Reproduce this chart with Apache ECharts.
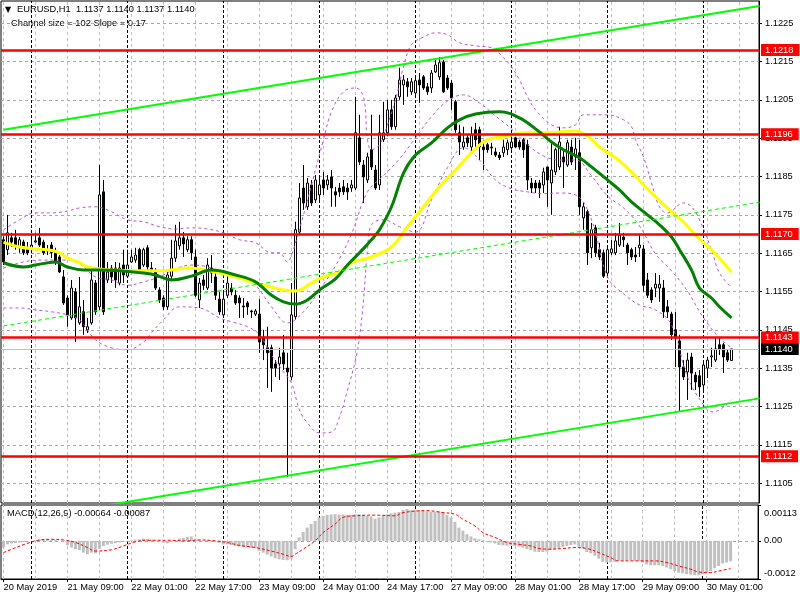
<!DOCTYPE html>
<html><head><meta charset="utf-8">
<script src="https://cdn.jsdelivr.net/npm/echarts@6/dist/echarts.min.js"></script>
<style>html,body{margin:0;padding:0;background:#fff}#c{width:800px;height:600px}</style>
</head><body><div id="c"></div>
<script>
// ---------- DATA (EURUSD H1, 20 May 2019 17:00 .. 30 May 2019 07:00) ----------
const opens = [1.11685,1.11659,1.11690,1.11690,1.11664,1.11679,1.11664,1.11659,1.11679,1.11690,
1.11679,1.11659,1.11671,1.11651,1.11640,1.11588,1.11533,1.11481,1.11549,1.11468,
1.11497,1.11450,1.11468,1.11572,1.11510,1.11810,1.11580,1.11611,1.11611,1.11572,
1.11619,1.11590,1.11627,1.11632,1.11659,1.11619,1.11664,1.11611,1.11606,1.11554,
1.11533,1.11510,1.11590,1.11637,1.11669,1.11690,1.11659,1.11685,1.11640,1.11528,
1.11580,1.11559,1.11611,1.11588,1.11530,1.11489,1.11540,1.11559,1.11540,1.11533,
1.11512,1.11520,1.11499,1.11491,1.11491,1.11431,1.11403,1.11403,1.11361,1.11361,
1.11390,1.11350,1.11327,1.11484,1.11705,1.11820,1.11771,1.11828,1.11789,1.11802,
1.11841,1.11828,1.11849,1.11810,1.11820,1.11823,1.11820,1.11820,1.11820,1.11951,
1.11880,1.11841,1.11920,1.11867,1.11828,1.11946,1.11964,1.12024,1.11980,1.12058,
1.12089,1.12097,1.12071,1.12068,1.12102,1.12110,1.12084,1.12081,1.12123,1.12110,
1.12149,1.12107,1.12094,1.12045,1.11964,1.11927,1.11951,1.11927,1.11972,1.11972,
1.11927,1.11933,1.11927,1.11914,1.11906,1.11912,1.11920,1.11925,1.11951,1.11940,
1.11946,1.11933,1.11833,1.11833,1.11833,1.11828,1.11875,1.11833,1.11862,1.11875,
1.11901,1.11880,1.11927,1.11901,1.11912,1.11742,1.11758,1.11664,1.11716,1.11659,
1.11651,1.11598,1.11651,1.11651,1.11671,1.11692,1.11671,1.11659,1.11645,1.11664,
1.11661,1.11580,1.11554,1.11559,1.11559,1.11559,1.11510,1.11491,1.11450,1.11421,
1.11353,1.11340,1.11379,1.11332,1.11330,1.11306,1.11350,1.11379,1.11371,1.11411,
1.11411,1.11390,1.11370];
const highs = [1.11694,1.11750,1.11703,1.11711,1.11692,1.11685,1.11679,1.11697,1.11703,1.11716,
1.11685,1.11671,1.11679,1.11664,1.11645,1.11606,1.11540,1.11580,1.11559,1.11588,
1.11528,1.11481,1.11606,1.11580,1.11880,1.11841,1.11627,1.11619,1.11627,1.11625,
1.11659,1.11659,1.11659,1.11664,1.11664,1.11664,1.11671,1.11627,1.11611,1.11561,
1.11540,1.11606,1.11685,1.11724,1.11732,1.11705,1.11694,1.11694,1.11659,1.11585,
1.11593,1.11637,1.11645,1.11601,1.11549,1.11554,1.11593,1.11572,1.11554,1.11540,
1.11533,1.11525,1.11502,1.11504,1.11530,1.11450,1.11458,1.11411,1.11371,1.11403,
1.11437,1.11390,1.11572,1.11732,1.11833,1.11880,1.11846,1.11841,1.11854,1.11846,
1.11862,1.11854,1.11867,1.11823,1.11833,1.11841,1.11833,1.11841,1.12058,1.12011,
1.11893,1.11912,1.12011,1.11880,1.12011,1.12045,1.12050,1.12050,1.12063,1.12134,
1.12115,1.12107,1.12107,1.12115,1.12120,1.12115,1.12094,1.12128,1.12154,1.12162,
1.12154,1.12115,1.12102,1.12050,1.11985,1.11980,1.11959,1.11980,1.11990,1.11980,
1.11946,1.11938,1.11938,1.11925,1.11914,1.11946,1.11946,1.11951,1.11953,1.11946,
1.11951,1.11946,1.11846,1.11841,1.11841,1.11873,1.11875,1.11938,1.11925,1.11980,
1.11920,1.11946,1.11946,1.11951,1.11946,1.11781,1.11763,1.11729,1.11724,1.11677,
1.11659,1.11671,1.11685,1.11703,1.11729,1.11703,1.11677,1.11664,1.11666,1.11697,
1.11671,1.11598,1.11561,1.11598,1.11593,1.11580,1.11528,1.11497,1.11497,1.11437,
1.11371,1.11390,1.11390,1.11340,1.11345,1.11366,1.11379,1.11403,1.11431,1.11431,
1.11416,1.11398,1.11400];
const lows = [1.11619,1.11645,1.11666,1.11659,1.11651,1.11645,1.11645,1.11659,1.11677,1.11666,
1.11645,1.11645,1.11637,1.11619,1.11598,1.11515,1.11458,1.11476,1.11418,1.11463,
1.11437,1.11442,1.11463,1.11489,1.11502,1.11489,1.11572,1.11572,1.11559,1.11566,
1.11572,1.11585,1.11625,1.11625,1.11601,1.11614,1.11606,1.11601,1.11554,1.11520,
1.11502,1.11502,1.11580,1.11627,1.11659,1.11640,1.11653,1.11632,1.11535,1.11507,
1.11554,1.11554,1.11572,1.11528,1.11489,1.11481,1.11533,1.11540,1.11515,1.11481,
1.11481,1.11489,1.11481,1.11486,1.11390,1.11371,1.11298,1.11288,1.11327,1.11319,
1.11345,1.11066,1.11319,1.11476,1.11697,1.11763,1.11763,1.11773,1.11781,1.11789,
1.11802,1.11815,1.11771,1.11771,1.11797,1.11802,1.11789,1.11810,1.11815,1.11880,
1.11781,1.11833,1.11867,1.11815,1.11815,1.11940,1.11956,1.11972,1.11972,1.12050,
1.12037,1.12058,1.12063,1.12063,1.12042,1.12076,1.12063,1.12068,1.12120,1.12102,
1.12068,1.12076,1.12024,1.11964,1.11906,1.11920,1.11927,1.11914,1.11920,1.11893,
1.11867,1.11912,1.11906,1.11901,1.11893,1.11901,1.11906,1.11920,1.11925,1.11920,
1.11899,1.11815,1.11807,1.11807,1.11794,1.11807,1.11771,1.11750,1.11854,1.11867,
1.11820,1.11875,1.11880,1.11867,1.11750,1.11711,1.11619,1.11637,1.11640,1.11632,
1.11585,1.11593,1.11645,1.11645,1.11666,1.11666,1.11619,1.11632,1.11627,1.11640,
1.11549,1.11533,1.11520,1.11535,1.11523,1.11481,1.11481,1.11424,1.11353,1.11236,
1.11319,1.11267,1.11293,1.11293,1.11275,1.11293,1.11324,1.11353,1.11366,1.11384,
1.11337,1.11366,1.11370];
const closes = [1.11627,1.11703,1.11679,1.11671,1.11685,1.11651,1.11651,1.11671,1.11682,1.11671,
1.11651,1.11656,1.11651,1.11627,1.11601,1.11520,1.11489,1.11559,1.11481,1.11510,
1.11458,1.11458,1.11580,1.11497,1.11802,1.11497,1.11601,1.11588,1.11580,1.11611,
1.11593,1.11619,1.11640,1.11645,1.11606,1.11659,1.11614,1.11606,1.11559,1.11528,
1.11510,1.11593,1.11637,1.11682,1.11690,1.11674,1.11685,1.11651,1.11540,1.11572,
1.11566,1.11619,1.11598,1.11540,1.11497,1.11530,1.11572,1.11549,1.11520,1.11520,
1.11510,1.11510,1.11497,1.11499,1.11418,1.11411,1.11390,1.11350,1.11350,1.11379,
1.11361,1.11340,1.11489,1.11711,1.11794,1.11781,1.11833,1.11781,1.11841,1.11828,
1.11820,1.11841,1.11820,1.11802,1.11810,1.11810,1.11810,1.11828,1.11964,1.11888,
1.11849,1.11901,1.11875,1.11820,1.11964,1.11964,1.12024,1.11980,1.12055,1.12102,
1.12102,1.12084,1.12097,1.12100,1.12089,1.12081,1.12071,1.12120,1.12141,1.12147,
1.12071,1.12081,1.12055,1.11972,1.11940,1.11940,1.11938,1.11959,1.11946,1.11927,
1.11920,1.11920,1.11925,1.11906,1.11899,1.11927,1.11938,1.11940,1.11927,1.11927,
1.11920,1.11841,1.11820,1.11820,1.11820,1.11862,1.11841,1.11867,1.11920,1.11940,
1.11888,1.11938,1.11888,1.11922,1.11771,1.11771,1.11651,1.11711,1.11651,1.11640,
1.11590,1.11659,1.11661,1.11682,1.11697,1.11685,1.11651,1.11640,1.11640,1.11671,
1.11566,1.11540,1.11528,1.11569,1.11569,1.11497,1.11497,1.11437,1.11429,1.11353,
1.11327,1.11371,1.11337,1.11314,1.11301,1.11358,1.11371,1.11382,1.11400,1.11400,
1.11379,1.11371,1.11400];

// moving averages: [bar index, price]
const maGreen = [[0,1.11625],[5,1.11614],[8,1.11619],[13,1.11627],[16,1.11614],[20,1.11606],[24,1.11606],[29,1.11604],[35,1.11598],[38,1.11593],[42,1.11580],[47,1.11590],[52,1.11606],[58,1.11593],[63,1.11575],[67,1.11540],[70,1.11523],[73,1.11517],[76,1.11528],[79,1.11554],[83,1.11583],[86,1.11619],[89,1.11651],[92,1.11685],[94,1.11711],[97,1.11771],[100,1.11859],[103,1.11906],[107,1.11938],[111,1.11977],[114,1.11998],[118,1.12013],[124,1.12019],[129,1.12003],[134,1.11966],[137,1.11940],[140,1.11920],[144,1.11899],[147,1.11875],[151,1.11841],[154,1.11815],[157,1.11784],[161,1.11750],[164,1.11724],[167,1.11692],[169,1.11659],[172,1.11606],[174,1.11559],[177,1.11533],[179,1.11510],[182,1.11481]];
const maYellow = [[0,1.11679],[4,1.11666],[8,1.11661],[11,1.11659],[14,1.11651],[16,1.11637],[19,1.11625],[21,1.11614],[24,1.11609],[27,1.11606],[34,1.11604],[39,1.11604],[42,1.11606],[46,1.11611],[49,1.11609],[54,1.11598],[58,1.11588],[62,1.11575],[67,1.11561],[70,1.11554],[73,1.11551],[77,1.11572],[80,1.11588],[84,1.11601],[87,1.11625],[92,1.11640],[97,1.11666],[101,1.11719],[105,1.11771],[109,1.11823],[113,1.11867],[117,1.11912],[121,1.11946],[125,1.11953],[130,1.11964],[136,1.11964],[143,1.11969],[146,1.11956],[149,1.11927],[153,1.11899],[157,1.11862],[160,1.11828],[163,1.11797],[167,1.11758],[170,1.11732],[173,1.11697],[177,1.11659],[179,1.11637],[182,1.11601]];
// Bollinger bands
const bbUpper = [[0,1.11711],[4,1.11737],[8,1.11755],[12,1.11755],[16,1.11760],[19,1.11768],[23,1.11771],[27,1.11758],[31,1.11737],[35,1.11732],[39,1.11719],[43,1.11713],[47,1.11716],[51,1.11713],[55,1.11703],[59,1.11685],[63,1.11677],[67,1.11651],[69,1.11651],[71,1.11627],[72,1.11645],[73,1.11677],[75,1.11750],[77,1.11828],[80,1.11946],[82,1.12019],[85,1.12071],[88,1.12081],[90,1.12058],[91,1.11946],[92,1.11920],[94,1.11933],[96,1.11985],[98,1.12050],[100,1.12136],[102,1.12194],[105,1.12214],[108,1.12225],[111,1.12220],[114,1.12199],[118,1.12191],[122,1.12186],[125,1.12160],[127,1.12136],[129,1.12102],[131,1.12058],[133,1.12024],[137,1.11985],[140,1.11977],[143,1.11985],[145,1.12011],[151,1.12011],[155,1.11998],[157,1.11980],[158,1.11946],[160,1.11901],[162,1.11833],[164,1.11771],[166,1.11755],[170,1.11781],[172,1.11771],[174,1.11737],[177,1.11659],[179,1.11598],[182,1.11561]];
const bbMiddle = [[0,1.11611],[5,1.11627],[10,1.11632],[15,1.11632],[19,1.11622],[23,1.11588],[27,1.11580],[31,1.11566],[35,1.11575],[39,1.11588],[43,1.11609],[47,1.11619],[51,1.11614],[55,1.11596],[59,1.11588],[63,1.11566],[67,1.11510],[71,1.11468],[75,1.11497],[79,1.11554],[83,1.11617],[87,1.11700],[91,1.11810],[95,1.11852],[99,1.11896],[103,1.11951],[107,1.12006],[111,1.12047],[115,1.12063],[119,1.12042],[123,1.12008],[127,1.11974],[131,1.11933],[135,1.11904],[139,1.11893],[143,1.11893],[147,1.11852],[151,1.11799],[155,1.11768],[159,1.11721],[163,1.11648],[167,1.11604],[171,1.11551],[175,1.11481],[179,1.11429],[182,1.11403]];
const bbLower = [[0,1.11507],[4,1.11507],[8,1.11502],[12,1.11497],[16,1.11489],[19,1.11476],[23,1.11424],[27,1.11403],[31,1.11398],[35,1.11418],[37,1.11442],[40,1.11476],[44,1.11510],[49,1.11507],[54,1.11481],[57,1.11471],[61,1.11458],[64,1.11437],[67,1.11384],[70,1.11340],[72,1.11311],[74,1.11241],[76,1.11207],[79,1.11181],[82,1.11183],[84,1.11223],[86,1.11293],[88,1.11371],[89,1.11431],[90,1.11528],[91,1.11659],[92,1.11724],[95,1.11737],[99,1.11719],[103,1.11705],[107,1.11789],[111,1.11873],[115,1.11925],[119,1.11893],[123,1.11841],[127,1.11818],[131,1.11810],[135,1.11805],[139,1.11807],[143,1.11802],[147,1.11737],[151,1.11588],[155,1.11544],[159,1.11515],[163,1.11502],[167,1.11463],[171,1.11327],[175,1.11254],[177,1.11236],[179,1.11241],[182,1.11267]];

// MACD(12,26,9) main (histogram) per bar, and signal line
const macdHist = [-0.00021,-0.00011,-0.00008,-0.00007,-0.00005,-0.00003,-0.00002,-0.00001,0.00002,0.00004,
0.00005,0.00005,0.00004,0.00003,0.00001,-0.00002,-0.00014,-0.00021,-0.00026,-0.00029,
-0.00037,-0.00042,-0.00037,-0.00039,-0.00024,-0.00016,-0.00012,-0.00009,-0.00007,-0.00005,
-0.00003,-0.00002,0.00002,0.00004,0.00005,0.00007,0.00006,0.00004,0.00002,-0.00002,
-0.00005,-0.00008,-0.00003,0.00002,0.00007,0.00009,0.00013,0.00014,0.00007,0.00003,
0.00001,0.00003,0.00001,-0.00002,-0.00007,-0.00011,-0.00011,-0.00013,-0.00016,-0.00018,
-0.00019,-0.00021,-0.00022,-0.00023,-0.00032,-0.00037,-0.00043,-0.00049,-0.00055,-0.00058,
-0.00060,-0.00061,-0.00056,-0.00026,0.00011,0.00028,0.00042,0.00053,0.00063,0.00074,
0.00079,0.00082,0.00083,0.00084,0.00083,0.00083,0.00082,0.00082,0.00084,0.00084,
0.00082,0.00079,0.00077,0.00070,0.00074,0.00079,0.00084,0.00087,0.00089,0.00091,
0.00098,0.00100,0.00097,0.00098,0.00096,0.00095,0.00093,0.00091,0.00091,0.00093,
0.00089,0.00081,0.00074,0.00060,0.00042,0.00032,0.00021,0.00014,0.00008,0.00005,
0.00002,-0.00002,-0.00005,-0.00008,-0.00013,-0.00014,-0.00015,-0.00015,-0.00016,-0.00018,
-0.00021,-0.00026,-0.00029,-0.00034,-0.00035,-0.00035,-0.00034,-0.00029,-0.00026,-0.00023,
-0.00019,-0.00016,-0.00013,-0.00011,-0.00018,-0.00024,-0.00035,-0.00039,-0.00047,-0.00056,
-0.00066,-0.00068,-0.00068,-0.00066,-0.00063,-0.00062,-0.00062,-0.00062,-0.00063,-0.00063,
-0.00068,-0.00074,-0.00077,-0.00077,-0.00077,-0.00079,-0.00084,-0.00089,-0.00095,-0.00100,
-0.00102,-0.00105,-0.00106,-0.00108,-0.00108,-0.00105,-0.00102,-0.00095,-0.00086,-0.00079,
-0.00071,-0.00068,-0.00064];
const macdSignal = [[0,-0.00037],[8,0],[12,0.00005],[15,0.00003],[18,-0.00005],[21,-0.00021],[23,-0.00032],[27,-0.00028],[30,-0.00016],[33,-0.00003],[36,0.00002],[41,0.00002],[46,0],[49,0.00003],[53,0],[56,-0.00005],[59,-0.00014],[63,-0.00021],[67,-0.00032],[70,-0.00042],[72,-0.00049],[73,-0.00042],[75,-0.00026],[78,0],[80,0.00026],[83,0.00053],[85,0.00074],[88,0.00079],[93,0.00081],[98,0.00079],[100,0.00089],[106,0.00095],[110,0.00089],[113,0.00084],[115,0.00068],[118,0.00047],[120,0.00026],[123,0.00011],[126,-0.00005],[129,-0.00011],[132,-0.00016],[134,-0.00024],[137,-0.00026],[140,-0.00024],[143,-0.00021],[146,-0.00024],[149,-0.00037],[152,-0.00053],[154,-0.00063],[158,-0.00063],[163,-0.00063],[166,-0.00068],[169,-0.00079],[172,-0.00089],[174,-0.00098],[177,-0.00100],[179,-0.00095],[182,-0.00087]];

// drawn objects
const channelUpper = [[0,1.11972],[189,1.12295]];
const channelMiddle = [[0,1.11460],[189,1.11783]];
const channelLower = [[0,1.10948],[189,1.11271]];
const redLevels = [1.1218,1.1196,1.1170,1.1143,1.1112];
const bidLevel = 1.1140;

// axes
const priceTicks = [1.1105,1.1115,1.1125,1.1135,1.1145,1.1155,1.1165,1.1175,1.1185,1.1195,1.1205,1.1215,1.1225];
const macdTicks = [-0.0012,0,0.00113];
const timeTickIdx = [0,16,32,48,64,80,96,112,128,144,160,176];
const timeTickLabels = ['20 May 2019','21 May 09:00','22 May 01:00','22 May 17:00','23 May 09:00','24 May 01:00','24 May 17:00','27 May 09:00','28 May 01:00','28 May 17:00','29 May 09:00','30 May 01:00'];
const daySeparators = [7,31,55,79,103,127,151,175];
const vGridIdx = [0,8,16,24,32,40,48,56,64,72,80,88,96,104,112,120,128,136,144,152,160,168,176,184];

// ---------- CHART ----------
const FONT = 'Liberation Sans, Arial, sans-serif';
const FS = 9.3;
const X_MIN = -0.625, X_MAX = 188.875;
const gridDash = {color:'#C0C0C0', width:1, type:[3,3]};
const hGridDash = {color:'#A8A8A8', width:1, type:[3,3]};
const dayDash = {color:'#000000', width:1, type:[3,2]};

const candleData = opens.map((o,i)=>[i,o,closes[i],lows[i],highs[i]]);
const last = opens.length-1;
const fmt4 = v => v.toFixed(4);
const fmt5 = v => v.toFixed(5);

function pureLine(data, color, width, type, z, smooth){
  return {type:'line', xAxisIndex:0, yAxisIndex:0, data, symbol:'none', smooth: smooth, silent:true,
    lineStyle:{color, width, type}, z, animation:false};
}
const levelLabel = (bg) => ({show:true, position:'end', distance:2, formatter: p => fmt4(Number(p.value)),
  color:'#fff', backgroundColor:bg, padding:[2,6,1,4], fontFamily:FONT, fontSize:FS});

const option = {
  animation:false,
  backgroundColor:'#fff',
  grid:[
    {left:1, top:1, width:758, height:502, show:true, borderColor:'#000', borderWidth:1, backgroundColor:'#fff'},
    {left:1, top:505, width:758, height:74, show:true, borderColor:'#000', borderWidth:1, backgroundColor:'#fff'}
  ],
  xAxis:[
    {type:'value', gridIndex:0, min:X_MIN, max:X_MAX, show:false},
    {type:'value', gridIndex:1, min:X_MIN, max:X_MAX, position:'bottom',
      axisLine:{show:true, onZero:false, lineStyle:{color:'#000'}},
      axisTick:{show:true, customValues:timeTickIdx, length:3, lineStyle:{color:'#000'}},
      axisLabel:{show:true, customValues:timeTickIdx, align:'left', margin:4, color:'#000', fontFamily:FONT, fontSize:FS,
        formatter: v => { const k = timeTickIdx.indexOf(Math.round(v)); return k>=0 ? timeTickLabels[k] : ''; }},
      splitLine:{show:false}}
  ],
  yAxis:[
    {type:'value', gridIndex:0, min:1.10998, max:1.12308, position:'right', scale:true,
      axisLine:{show:true, onZero:false, lineStyle:{color:'#000'}},
      axisTick:{show:true, customValues:priceTicks, length:3, lineStyle:{color:'#000'}},
      axisLabel:{show:true, customValues:priceTicks, formatter: v => fmt4(v), margin:6, color:'#000', fontFamily:FONT, fontSize:FS},
      splitLine:{show:false}},
    {type:'value', gridIndex:1, min:-0.0012, max:0.00113, position:'right',
      axisLine:{show:true, onZero:false, lineStyle:{color:'#000'}},
      axisTick:{show:true, customValues:macdTicks, length:3, lineStyle:{color:'#000'}},
      axisLabel:{show:true, customValues:macdTicks, margin:6, color:'#000', fontFamily:FONT, fontSize:FS,
        formatter: v => v > 0.0005 ? '{t|0.00113}' : (v < -0.0005 ? '{b|-0.0012}' : '{m|0.00}'),
        rich:{
          t:{padding:[16,0,0,0], fontFamily:FONT, fontSize:FS, color:'#000'},
          b:{padding:[0,0,12,0], fontFamily:FONT, fontSize:FS, color:'#000'},
          m:{fontFamily:FONT, fontSize:FS, color:'#000'}
        }},
      splitLine:{show:false}}
  ],
  graphic:[
    {type:'text', left:5, top:6, silent:true, style:{text:'\u25BC', fontSize:8, fontFamily:'DejaVu Sans', fill:'#000'}},
    {type:'text', left:17, top:5, silent:true, style:{text:'EURUSD,H1  ' + [opens[last],highs[last],lows[last],closes[last]].map(fmt4).join(' '), fontSize:FS, fontFamily:FONT, fill:'#000'}},
    {type:'text', left:11, top:19, silent:true, style:{text:'Channel size = 102 Slope = 0.17', fontSize:FS, fontFamily:FONT, fill:'#000'}},
    {type:'text', left:7, top:509, silent:true, style:{text:'MACD(12,26,9) ' + fmt5(macdHist[last]) + ' ' + fmt5(macdSignal[macdSignal.length-1][1]), fontSize:FS, fontFamily:FONT, fill:'#000'}}
  ],
  series:[
    // main grid lines
    {type:'line', xAxisIndex:0, yAxisIndex:0, data:[], silent:true,
      markLine:{silent:true, symbol:'none', z:1, precision:6, animation:false, label:{show:false},
        data:[].concat(
          priceTicks.map(v=>({yAxis:v, lineStyle:hGridDash})),
          vGridIdx.map(v=>({xAxis:v, lineStyle:gridDash})),
          daySeparators.map(v=>({xAxis:v, lineStyle:dayDash}))
        )}},
    // candles
    {type:'candlestick', xAxisIndex:0, yAxisIndex:0, data:candleData, barWidth:3, z:3, silent:true,
      itemStyle:{color:'#ffffff', color0:'#000000', borderColor:'#000000', borderColor0:'#000000', borderWidth:1}},
    // Bollinger bands
    pureLine(bbUpper, '#BA55D3', 1, [3,3], 4, 0.4),
    pureLine(bbMiddle, '#BA55D3', 1, [3,3], 4, 0.4),
    pureLine(bbLower, '#BA55D3', 1, [3,3], 4, 0.4),
    // moving averages
    pureLine(maYellow, '#FFFF00', 3, 'solid', 5, 0.4),
    pureLine(maGreen, '#008000', 3, 'solid', 5, 0.4),
    // channel
    pureLine(channelUpper, '#00FF00', 2, 'solid', 6, false),
    pureLine(channelMiddle, '#00FF00', 1, [4,3], 6, false),
    pureLine(channelLower, '#00FF00', 2, 'solid', 6, false),
    // horizontal levels
    {type:'line', xAxisIndex:0, yAxisIndex:0, data:[], silent:true,
      markLine:{silent:true, symbol:'none', z:8, precision:6, animation:false,
        data:[{yAxis:bidLevel, lineStyle:{color:'#C0C0C0', width:1, type:'solid'}, label:levelLabel('#000000')}].concat(
          redLevels.map(v=>({yAxis:v, lineStyle:{color:'#FF0000', width:2.5, type:'solid'}, label:levelLabel('#FF0000')})))}},
    // MACD grid lines
    {type:'line', xAxisIndex:1, yAxisIndex:1, data:[], silent:true,
      markLine:{silent:true, symbol:'none', z:1, precision:6, animation:false, label:{show:false},
        data:[{yAxis:0, lineStyle:hGridDash}].concat(
          vGridIdx.map(v=>({xAxis:v, lineStyle:gridDash})),
          daySeparators.map(v=>({xAxis:v, lineStyle:dayDash})))}},
    // MACD histogram
    {type:'bar', xAxisIndex:1, yAxisIndex:1, data:macdHist.map((v,i)=>[i,v]), barWidth:3, silent:true, z:3,
      itemStyle:{color:'#C0C0C0'}},
    // signal
    {type:'line', xAxisIndex:1, yAxisIndex:1, data:macdSignal, symbol:'none', smooth:0.4, silent:true, z:4,
      lineStyle:{color:'#FF0000', width:1, type:[3,2]}}
  ]
};
const chart = echarts.init(document.getElementById('c'), null, {renderer:'canvas'});
chart.setOption(option);
</script>
</body></html>
